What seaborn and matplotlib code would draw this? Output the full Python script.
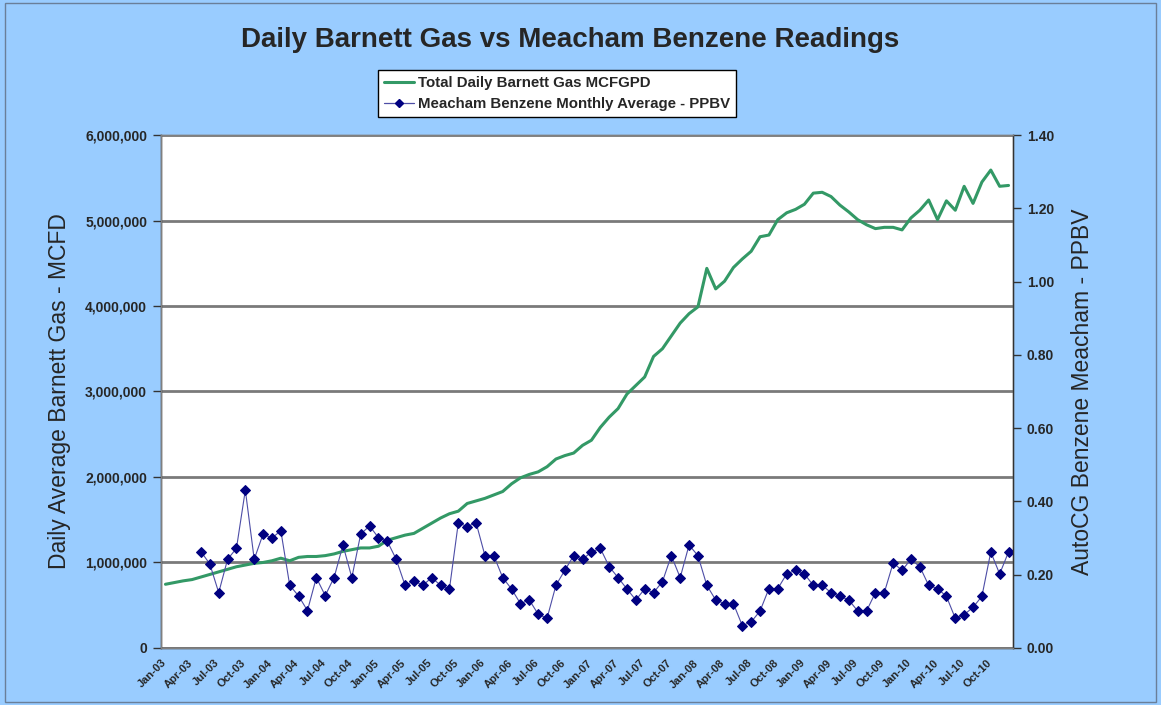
import numpy as np
import pandas as pd
import matplotlib
matplotlib.use("Agg")
import matplotlib.pyplot as plt
import seaborn as sns
from matplotlib.lines import Line2D
from matplotlib.patches import Rectangle
from matplotlib.ticker import FuncFormatter

# ---------------- data ----------------
month_labels = pd.date_range("2003-01-01", "2010-12-01", freq="MS").strftime("%b-%y").tolist()

gas = [0.745, 0.765, 0.785, 0.80, 0.83, 0.86, 0.89, 0.92, 0.95, 0.97,
       0.99, 1.00, 1.02, 1.05, 1.02, 1.06, 1.07, 1.07, 1.08, 1.10,
       1.13, 1.15, 1.17, 1.17, 1.19, 1.26, 1.29, 1.32, 1.34, 1.40,
       1.46, 1.52, 1.57, 1.60, 1.69, 1.72, 1.75, 1.79, 1.83, 1.92,
       1.99, 2.03, 2.06, 2.12, 2.21, 2.25, 2.28, 2.37, 2.43, 2.58,
       2.70, 2.80, 2.97, 3.07, 3.17, 3.41, 3.50, 3.65, 3.80, 3.91,
       3.99, 4.44, 4.20, 4.29, 4.45, 4.55, 4.64, 4.81, 4.83, 5.01,
       5.09, 5.13, 5.19, 5.32, 5.33, 5.28, 5.18, 5.10, 5.01, 4.95,
       4.905, 4.92, 4.92, 4.89, 5.03, 5.12, 5.24, 5.01, 5.23, 5.12,
       5.40, 5.20, 5.45, 5.59, 5.40, 5.41]
gas = [g * 1_000_000 for g in gas]

benzene = [np.nan, np.nan, np.nan, np.nan,
           0.263, 0.229, 0.151, 0.242, 0.272, 0.431, 0.242, 0.311, 0.300, 0.320,
           0.171, 0.142, 0.102, 0.192, 0.143, 0.192, 0.281, 0.192, 0.311, 0.333,
           0.301, 0.291, 0.242, 0.171, 0.183, 0.171, 0.192, 0.171, 0.161, 0.342,
           0.331, 0.342, 0.252, 0.252, 0.192, 0.161, 0.121, 0.131, 0.092, 0.081,
           0.171, 0.212, 0.252, 0.242, 0.262, 0.272, 0.222, 0.192, 0.161, 0.131,
           0.161, 0.151, 0.181, 0.252, 0.192, 0.281, 0.252, 0.171, 0.131, 0.121,
           0.121, 0.061, 0.071, 0.101, 0.162, 0.162, 0.202, 0.212, 0.202, 0.171,
           0.171, 0.151, 0.141, 0.131, 0.101, 0.101, 0.151, 0.151, 0.232, 0.212,
           0.242, 0.222, 0.171, 0.162, 0.141, 0.081, 0.091, 0.111, 0.141, 0.262,
           0.202, 0.262]

gas_ticks = [0, 1_000_000, 2_000_000, 3_000_000, 4_000_000, 5_000_000, 6_000_000]
benz_ticks = [0.0, 0.2, 0.4, 0.6, 0.8, 1.0, 1.2, 1.4]

title = "Daily Barnett Gas vs Meacham Benzene Readings"
gas_name = "Total Daily Barnett Gas MCFGPD"
benz_name = "Meacham Benzene Monthly Average - PPBV"
left_label = "Daily Average Barnett Gas - MCFD"
right_label = "AutoCG Benzene Meacham - PPBV"

df = pd.DataFrame({"idx": np.arange(len(month_labels)), "gas": gas, "benzene": benzene})

# ---------------- style ----------------
sns.set_style("white")
plt.rcParams["font.family"] = ["Liberation Sans", "DejaVu Sans"]

BG = "#99CCFF"
GREEN = "#339966"
NAVY = "#000080"
NAVY_LINE = "#4D4DA6"

fig = plt.figure(figsize=(11.61, 7.05), dpi=100, facecolor=BG)
fig.patches.append(Rectangle((0.004, 0.004), 0.992, 0.992, transform=fig.transFigure,
                             fill=False, edgecolor="#6a7f99", lw=1.0))

ax = fig.add_axes([0.1387, 0.0809, 0.7338, 0.7276])
ax.set_facecolor("white")

sns.lineplot(data=df, x="idx", y="gas", ax=ax, color=GREEN, lw=2.2, legend=False)
ax.set_ylim(0, 6_000_000)
ax.set_yticks(gas_ticks)
ax.yaxis.set_major_formatter(FuncFormatter(lambda v, p: f"{int(v):,}"))
ax.yaxis.grid(True, color="#7a7a7a", lw=2)
ax.set_axisbelow(True)

ax2 = ax.twinx()
sns.lineplot(data=df.dropna(), x="idx", y="benzene", ax=ax2, color=NAVY, lw=0.8,
             marker="D", markersize=4.6, legend=False)
bl = ax2.lines[0]
bl.set_color(NAVY_LINE)
bl.set_markerfacecolor(NAVY)
bl.set_markeredgecolor(NAVY)
ax2.set_ylim(0, 1.4)
ax2.set_yticks(benz_ticks)
ax2.yaxis.set_major_formatter(FuncFormatter(lambda v, p: f"{v:.2f}"))

n = len(month_labels)
ax.set_xlim(-0.5, n - 0.5)
xt = np.arange(0, n + 1, 3) - 0.5
ax.set_xticks(xt)
ax.set_xticklabels([month_labels[i] for i in range(0, n, 3)] + [""],
                   rotation=45, ha="right", rotation_mode="anchor",
                   fontsize=8, fontweight="bold")

for a in (ax, ax2):
    for s in a.spines.values():
        s.set_color("#808080")
        s.set_linewidth(1)
ax.spines["left"].set_color("#333333")
ax.spines["bottom"].set_color("#333333")
ax2.spines["right"].set_color("#333333")

ax.tick_params(axis="x", direction="out", length=5, width=1, color="#333333", pad=2)
ax.tick_params(axis="y", direction="out", length=6, width=1, color="#333333",
               labelsize=10, pad=4)
ax2.tick_params(axis="y", direction="out", length=6, width=1, color="#333333",
                labelsize=10, pad=4)
for lab in ax.get_yticklabels() + ax2.get_yticklabels():
    lab.set_fontweight("bold")

ax.set_xlabel("")
ax.set_ylabel(left_label, fontsize=16.5, labelpad=10)
ax2.set_ylabel(right_label, fontsize=16.5, rotation=90, labelpad=12)

fig.text(0.491, 0.943, title, ha="center", va="center", fontsize=20, fontweight="bold")

handles = [Line2D([], [], color=GREEN, lw=2.2),
           Line2D([], [], color=NAVY_LINE, lw=0.9, marker="D", markersize=4,
                  markerfacecolor=NAVY, markeredgecolor=NAVY)]
leg = fig.legend(handles, [gas_name, benz_name], loc="center", bbox_to_anchor=(0.480, 0.867),
                 frameon=True, fancybox=False, edgecolor="black", framealpha=1,
                 prop={"weight": "bold", "size": 10.8}, handlelength=2.0,
                 handletextpad=0.25, borderpad=0.4, labelspacing=0.45)
leg.get_frame().set_linewidth(1)

fig.savefig("out.png", dpi=100, facecolor=BG)
